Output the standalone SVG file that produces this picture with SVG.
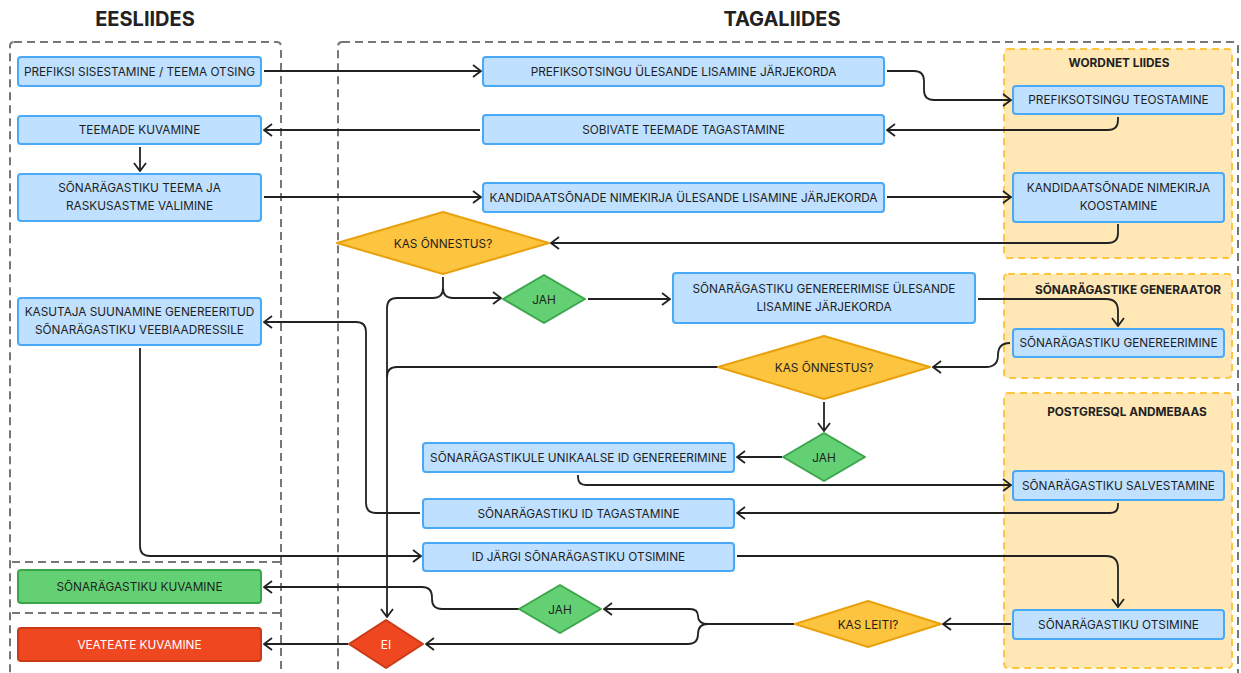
<svg xmlns="http://www.w3.org/2000/svg" width="1241" height="673" viewBox="0 0 1241 673">
<style>
.t{font-family:Inter,"Noto Sans","Liberation Sans",sans-serif;font-size:11.8px;fill:#1e1e1e;text-anchor:middle}
.h{font-family:Inter,"Noto Sans","Liberation Sans",sans-serif;font-size:20px;font-weight:700;fill:#222;text-anchor:middle}
.ht{font-family:Inter,"Noto Sans","Liberation Sans",sans-serif;font-size:11.8px;font-weight:700;fill:#222;text-anchor:middle}
.w{fill:#fff}
.blue{fill:#bfe0fe;stroke:#4aa9f6;stroke-width:2}
.green{fill:#63d173;stroke:#3ba54c;stroke-width:2}
.red{fill:#ef4720;stroke:#c93a17;stroke-width:2}
.yel{fill:#fdc53f;stroke:#e9a10d;stroke-width:2}
.lane{fill:none;stroke:#777;stroke-width:2;stroke-dasharray:8 5}
.sys{fill:#ffe8b6;stroke:#fdc63f;stroke-width:2;stroke-dasharray:7 5}
.c{fill:none;stroke:#222;stroke-width:1.8}
</style>
<defs>
<marker id="a" viewBox="0 0 10 14" refX="9" refY="7" markerWidth="10" markerHeight="14" markerUnits="userSpaceOnUse" orient="auto">
<path d="M1,1 L9,7 L1,13" fill="none" stroke="#222" stroke-width="1.8"/>
</marker>
</defs>
<rect width="1241" height="673" fill="#fff"/>
<g id="lanes">
<text class="h" x="145" y="26">EESLIIDES</text>
<text class="h" x="782" y="26">TAGALIIDES</text>
<rect class="lane" x="10" y="42" width="271" height="660" rx="4"/>
<line class="lane" x1="12" y1="562" x2="281" y2="562"/>
<line class="lane" x1="12" y1="613" x2="281" y2="613"/>
<rect class="lane" x="338" y="42" width="900" height="660" rx="4"/>
</g>
<g id="wordnet">
<rect class="sys" x="1004" y="49" width="228" height="209" rx="4"/>
<text class="ht" x="1119" y="67">WORDNET LIIDES</text>
</g>
<g id="generaator">
<rect class="sys" x="1004" y="274" width="228" height="104" rx="4"/>
<text class="ht" x="1128" y="294">SÕNARÄGASTIKE GENERAATOR</text>
</g>
<g id="postgres">
<rect class="sys" x="1004" y="393" width="228" height="275" rx="4"/>
<text class="ht" x="1127" y="416">POSTGRESQL ANDMEBAAS</text>
</g>
<g id="connectors">
<path class="c" marker-end="url(#a)" d="M264,71 H481"/>
<path class="c" marker-end="url(#a)" d="M887,71 H914 Q924,71 924,81 V90 Q924,100 934,100 H1011"/>
<path class="c" marker-end="url(#a)" d="M1118,117 V120 Q1118,130 1108,130 H887"/>
<path class="c" marker-end="url(#a)" d="M480,130 H264"/>
<path class="c" marker-end="url(#a)" d="M140,147 V171"/>
<path class="c" marker-end="url(#a)" d="M264,197 H481"/>
<path class="c" marker-end="url(#a)" d="M887,197 H1011"/>
<path class="c" marker-end="url(#a)" d="M1118,224 V233 Q1118,243 1108,243 H551"/>
<path class="c" marker-end="url(#a)" d="M443,277 V288 Q443,298 453,298 H501"/>
<path class="c" marker-end="url(#a)" d="M443,288 Q443,298 433,298 H397 Q387,298 387,308 V617"/>
<path class="c" marker-end="url(#a)" d="M588,299 H670"/>
<path class="c" marker-end="url(#a)" d="M978,299 H1106 Q1118,299 1118,311 V326"/>
<path class="c" marker-end="url(#a)" d="M1010,343 Q998,343 998,355 Q998,367 986,367 H933"/>
<path class="c" d="M718,367 H397 Q387,367 387,377"/>
<path class="c" marker-end="url(#a)" d="M824,402 V431"/>
<path class="c" marker-end="url(#a)" d="M782,457 H737"/>
<path class="c" marker-end="url(#a)" d="M578,475 V477 Q578,485 586,485 H1011"/>
<path class="c" marker-end="url(#a)" d="M1118,503 V505 Q1118,513 1110,513 H737"/>
<path class="c" marker-end="url(#a)" d="M420,513 H376 Q366,513 366,503 V332 Q366,322 356,322 H264"/>
<path class="c" marker-end="url(#a)" d="M140,348 V546 Q140,556 150,556 H421"/>
<path class="c" marker-end="url(#a)" d="M737,556 H1106 Q1118,556 1118,568 V607"/>
<path class="c" marker-end="url(#a)" d="M1011,624 H943"/>
<path class="c" marker-end="url(#a)" d="M794,624 H708 Q698,624 698,616 Q698,609 690,609 H604"/>
<path class="c" marker-end="url(#a)" d="M708,624 Q698,624 698,634 Q698,644 688,644 H426"/>
<path class="c" marker-end="url(#a)" d="M519,609 H442 Q432,609 432,599 V597 Q432,587 422,587 H264"/>
<path class="c" marker-end="url(#a)" d="M348,644 H264"/>
</g>
<g id="n-prefiksi"><rect class="blue" x="18" y="57" width="243" height="29" rx="3"/><text class="t" x="139.5" y="75.5">PREFIKSI SISESTAMINE / TEEMA OTSING</text></g>
<g id="n-teemade"><rect class="blue" x="18" y="116" width="243" height="28" rx="3"/><text class="t" x="139.5" y="134">TEEMADE KUVAMINE</text></g>
<g id="n-valimine"><rect class="blue" x="18" y="174" width="243" height="47" rx="3"/><text class="t" x="139.5" y="192">SÕNARÄGASTIKU TEEMA JA</text><text class="t" x="139.5" y="210">RASKUSASTME VALIMINE</text></g>
<g id="n-suunamine"><rect class="blue" x="18" y="298" width="243" height="47" rx="3"/><text class="t" x="139.5" y="316">KASUTAJA SUUNAMINE GENEREERITUD</text><text class="t" x="139.5" y="334">SÕNARÄGASTIKU VEEBIAADRESSILE</text></g>
<g id="n-kuvamine"><rect class="green" x="18" y="570" width="243" height="33" rx="3"/><text class="t" x="139.5" y="591">SÕNARÄGASTIKU KUVAMINE</text></g>
<g id="n-veateate"><rect class="red" x="18" y="628" width="243" height="33" rx="3"/><text class="t w" x="139.5" y="648.5">VEATEATE KUVAMINE</text></g>
<g id="n-prefjarj"><rect class="blue" x="483" y="57" width="401" height="29" rx="3"/><text class="t" x="683.5" y="75.5">PREFIKSOTSINGU ÜLESANDE LISAMINE JÄRJEKORDA</text></g>
<g id="n-sobivate"><rect class="blue" x="483" y="115" width="401" height="29" rx="3"/><text class="t" x="683.5" y="133.5">SOBIVATE TEEMADE TAGASTAMINE</text></g>
<g id="n-kandjarj"><rect class="blue" x="483" y="183" width="401" height="29" rx="3"/><text class="t" x="683.5" y="201.5">KANDIDAATSÕNADE NIMEKIRJA ÜLESANDE LISAMINE JÄRJEKORDA</text></g>
<g id="d-onnestus1"><path class="yel" d="M443,212 L549,243 L443,274 L337,243 Z" stroke-linejoin="round"/><text class="t" x="443" y="247.5">KAS ÕNNESTUS?</text></g>
<g id="d-jah1"><path class="green" d="M544,275 L585,299 L544,323 L503,299 Z" stroke-linejoin="round"/><text class="t" x="544" y="303.5">JAH</text></g>
<g id="n-genjarj"><rect class="blue" x="673" y="273" width="302" height="50" rx="3"/><text class="t" x="824" y="293">SÕNARÄGASTIKU GENEREERIMISE ÜLESANDE</text><text class="t" x="824" y="311">LISAMINE JÄRJEKORDA</text></g>
<g id="d-onnestus2"><path class="yel" d="M824,336 L930,367 L824,399 L718,367 Z" stroke-linejoin="round"/><text class="t" x="824" y="371.5">KAS ÕNNESTUS?</text></g>
<g id="d-jah2"><path class="green" d="M824,433 L865,457 L824,481 L783,457 Z" stroke-linejoin="round"/><text class="t" x="824" y="461.5">JAH</text></g>
<g id="n-unikaalse"><rect class="blue" x="423" y="443" width="311" height="29" rx="3"/><text class="t" x="578.5" y="461.5">SÕNARÄGASTIKULE UNIKAALSE ID GENEREERIMINE</text></g>
<g id="n-idtagast"><rect class="blue" x="423" y="499" width="311" height="29" rx="3"/><text class="t" x="578.5" y="517.5">SÕNARÄGASTIKU ID TAGASTAMINE</text></g>
<g id="n-idjargi"><rect class="blue" x="423" y="543" width="311" height="28" rx="3"/><text class="t" x="578.5" y="561">ID JÄRGI SÕNARÄGASTIKU OTSIMINE</text></g>
<g id="d-jah3"><path class="green" d="M560,585 L601,609 L560,633 L519,609 Z" stroke-linejoin="round"/><text class="t" x="560" y="613.5">JAH</text></g>
<g id="d-ei"><path class="red" d="M386,620 L423,644 L386,668 L349,644 Z" stroke-linejoin="round"/><text class="t w" x="386" y="648.5">EI</text></g>
<g id="d-leiti"><path class="yel" d="M868,601 L941,624 L868,647 L795,624 Z" stroke-linejoin="round"/><text class="t" x="868" y="628.5">KAS LEITI?</text></g>
<g id="n-prefteost"><rect class="blue" x="1013" y="86" width="211" height="28" rx="3"/><text class="t" x="1118.5" y="104">PREFIKSOTSINGU TEOSTAMINE</text></g>
<g id="n-kandkoost"><rect class="blue" x="1013" y="173" width="211" height="49" rx="3"/><text class="t" x="1118.5" y="192">KANDIDAATSÕNADE NIMEKIRJA</text><text class="t" x="1118.5" y="210">KOOSTAMINE</text></g>
<g id="n-genereerimine"><rect class="blue" x="1013" y="329" width="211" height="28" rx="3"/><text class="t" x="1118.5" y="347">SÕNARÄGASTIKU GENEREERIMINE</text></g>
<g id="n-salvestamine"><rect class="blue" x="1013" y="471" width="211" height="29" rx="3"/><text class="t" x="1118.5" y="489.5">SÕNARÄGASTIKU SALVESTAMINE</text></g>
<g id="n-otsimine"><rect class="blue" x="1013" y="610" width="211" height="29" rx="3"/><text class="t" x="1118.5" y="628.5">SÕNARÄGASTIKU OTSIMINE</text></g>
</svg>
